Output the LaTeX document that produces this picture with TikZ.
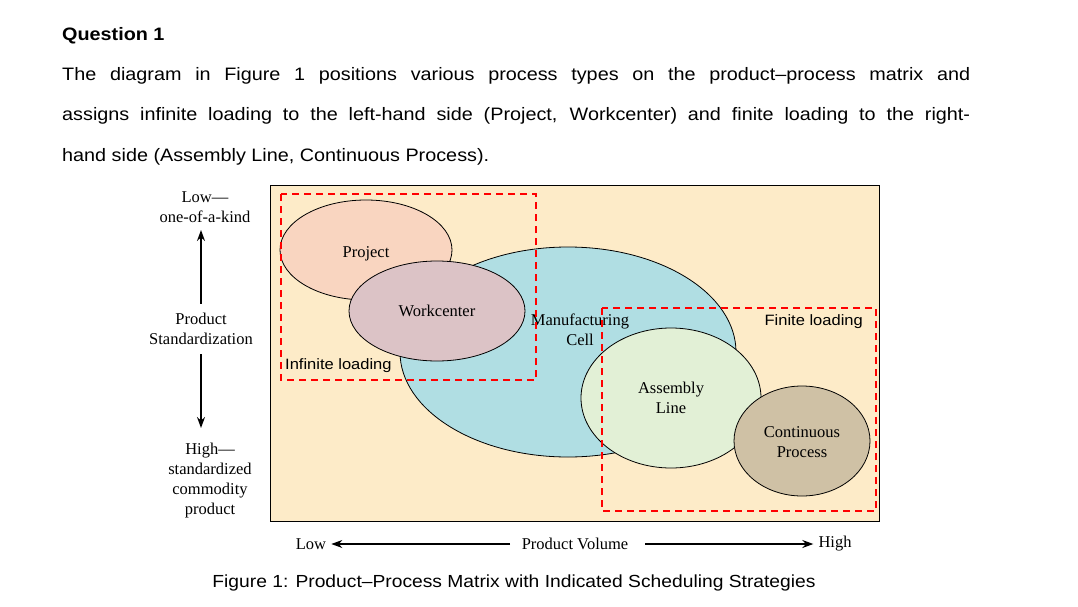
\documentclass[tikz,border=0pt]{standalone}
\usepackage{fontspec}
\setmainfont{Liberation Serif}
\newfontfamily\sansf{Liberation Sans}[FakeStretch=1.1]
\usetikzlibrary{arrows.meta}
\definecolor{matrixbg}{RGB}{253,235,200}
\definecolor{projfill}{RGB}{249,213,192}
\definecolor{wcfill}{RGB}{220,195,198}
\definecolor{cellfill}{RGB}{176,222,227}
\definecolor{alfill}{RGB}{226,240,214}
\definecolor{cpfill}{RGB}{207,193,165}
\tikzset{
  para/.style={anchor=base west,inner sep=0pt,font=\sansf\fontsize{18}{21}\selectfont},
  lab/.style={inner sep=1pt,font=\fontsize{16.5}{20}\selectfont,align=center},
  proc/.style={draw=black,line width=0.8pt},
  loadbox/.style={draw=red,dashed,line width=1.6pt,dash pattern=on 7pt off 5pt},
  loadlab/.style={inner sep=1pt,font=\sansf\fontsize{15}{17}\selectfont},
  axis/.style={line width=1.4pt,-{Stealth[length=11pt,width=8pt]}}
}
\begin{document}
\begin{tikzpicture}[x=1pt,y=-1pt]
\useasboundingbox (0,0) rectangle (1078,607);
% question text
\node[para,font=\sansf\bfseries\fontsize{18}{21}\selectfont] (q) at (62,41) {Question 1};
\node[para] (l1) at (62,81) {\makebox[908pt][s]{The diagram in Figure 1 positions various process types on the product–process matrix and}};
\node[para] (l2) at (62,121) {\makebox[908pt][s]{assigns infinite loading to the left-hand side (Project, Workcenter) and finite loading to the right-}};
\node[para] (l3) at (62,161) {hand side (Assembly Line, Continuous Process).};
% matrix
\draw[fill=matrixbg,line width=1pt] (270,185) rectangle (879,521);
\draw[proc,fill=cellfill] (568,352) ellipse [x radius=168,y radius=105];
\draw[proc,fill=projfill] (366,250) ellipse [x radius=86,y radius=50];
\draw[proc,fill=wcfill] (437,311) ellipse [x radius=88,y radius=50];
\draw[proc,fill=alfill] (671,398) ellipse [x radius=90,y radius=70];
\draw[proc,fill=cpfill] (802,441) ellipse [x radius=68,y radius=55];
\node[lab] (project) at (366,254) {Project};
\node[lab] (wc) at (437,311) {Workcenter};
\node[lab] (cell) at (580,330) {Manufacturing\\Cell};
\node[lab] (al) at (671,398) {Assembly\\Line};
\node[lab] (cp) at (802,442) {Continuous\\Process};
% loading regions
\draw[loadbox] (281,194) rectangle (536,380);
\draw[loadbox] (602,308) rectangle (876,511);
\node[loadlab,anchor=west] (inf) at (284,366) {Infinite loading};
\node[loadlab,anchor=east] (fin) at (864,322) {Finite loading};
% vertical axis
\node[lab] (low) at (205,207) {Low—\\one-of-a-kind};
\node[lab] (std) at (201,329) {Product\\Standardization};
\node[lab] (high) at (210,481) {High—\\standardized\\commodity\\product};
\draw[axis] (std.north) ++(0,-8) coordinate (su) -- (201,230);
\draw[axis] (std.south) ++(0,8) coordinate (sd) -- (201,428);
% horizontal axis
\node[lab] (vlow) at (311,544) {Low};
\node[lab] (vol) at (575,544) {Product Volume};
\node[lab] (vhigh) at (835,544) {High};
\draw[axis] (510,544) -- ([xshift=4pt]vlow.east);
\draw[axis] (645,544) -- ([xshift=-4pt]vhigh.west);
% caption
\node[font=\sansf\fontsize{17.5}{20}\selectfont] (cap) at (514,583) {Figure 1: Product–Process Matrix with Indicated Scheduling Strategies};
\end{tikzpicture}
\end{document}
